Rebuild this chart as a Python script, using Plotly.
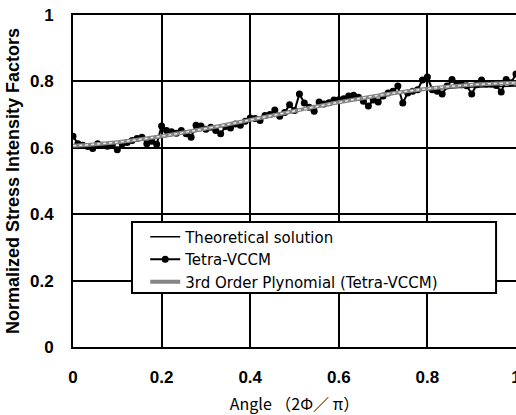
import plotly.graph_objects as go

# ---- data ----
x_tick_vals = [0, 0.2, 0.4, 0.6, 0.8, 1.0]
x_tick_text = ["0", "0.2", "0.4", "0.6", "0.8", "1"]
y_tick_vals = [0, 0.2, 0.4, 0.6, 0.8, 1.0]
y_tick_text = ["0", "0.2", "0.4", "0.6", "0.8", "1"]

# Tetra-VCCM results (91 points, angle 0..1 in steps of 1/90)
vccm_values = [
    0.635, 0.612, 0.608, 0.604, 0.598, 0.612, 0.608, 0.605, 0.610, 0.594,
    0.612, 0.616, 0.622, 0.628, 0.632, 0.612, 0.620, 0.611, 0.666, 0.652,
    0.648, 0.644, 0.652, 0.642, 0.632, 0.668, 0.666, 0.656, 0.662, 0.652,
    0.642, 0.664, 0.660, 0.672, 0.668, 0.680, 0.690, 0.688, 0.682, 0.697,
    0.700, 0.714, 0.695, 0.706, 0.730, 0.712, 0.762, 0.735, 0.722, 0.710,
    0.738, 0.732, 0.736, 0.744, 0.745, 0.748, 0.756, 0.758, 0.752, 0.740,
    0.726, 0.744, 0.738, 0.756, 0.765, 0.770, 0.786, 0.735, 0.765, 0.770,
    0.775, 0.804, 0.813, 0.775, 0.770, 0.762, 0.786, 0.806, 0.792, 0.790,
    0.787, 0.762, 0.790, 0.804, 0.792, 0.792, 0.788, 0.768, 0.806, 0.796,
    0.822,
]
vccm_angles = [i / 90 for i in range(len(vccm_values))]

curve_angles = [0.0, 0.1, 0.2, 0.3, 0.4, 0.5, 0.6, 0.7, 0.8, 0.9, 1.0]
theory_values = [0.607, 0.615, 0.632, 0.655, 0.683, 0.712, 0.738, 0.760, 0.775, 0.783, 0.786]
poly_values = [0.606, 0.617, 0.635, 0.658, 0.684, 0.711, 0.737, 0.760, 0.778, 0.790, 0.796]

fig = go.Figure()
fig.add_trace(go.Scatter(
    x=curve_angles, y=theory_values, mode="lines", name="Theoretical solution",
    line=dict(color="black", width=1.5, shape="spline"),
))
fig.add_trace(go.Scatter(
    x=vccm_angles, y=vccm_values, mode="lines+markers", name="Tetra-VCCM",
    line=dict(color="black", width=2), marker=dict(color="black", size=7),
))
fig.add_trace(go.Scatter(
    x=curve_angles, y=poly_values, mode="lines", name="3rd Order Plynomial (Tetra-VCCM)",
    line=dict(color="#858585", width=4, shape="spline"),
))
fig.add_trace(go.Scatter(
    x=curve_angles, y=poly_values, mode="lines", showlegend=False, hoverinfo="skip",
    line=dict(color="#e6e6e6", width=1.5, shape="spline", dash="dot"),
))

tick_font = dict(family="Liberation Sans", size=17, color="black", weight="bold")

# legend frame (drawn as a shape so its size matches the original)
fig.add_shape(
    type="rect", xref="paper", yref="paper",
    x0=0.1332, x1=0.955, y0=0.1627, y1=0.3765,
    fillcolor="white", line=dict(color="black", width=2), layer="above",
)

fig.update_layout(
    width=516, height=415,
    margin=dict(l=73, r=0, t=15, b=68),
    paper_bgcolor="white", plot_bgcolor="white",
    template="none",
    showlegend=True,
    legend=dict(
        x=0.163, y=0.381, xanchor="left", yanchor="top",
        bgcolor="rgba(0,0,0,0)", borderwidth=0,
        font=dict(family="DejaVu Sans", size=15, color="black"),
        tracegroupgap=0, itemwidth=30,
    ),
    xaxis=dict(
        range=[0, 1], tickvals=x_tick_vals, ticktext=x_tick_text,
        showgrid=True, gridcolor="black", gridwidth=2,
        showline=True, linecolor="black", linewidth=2, mirror=True,
        zeroline=False, ticks="", tickfont=tick_font, automargin=False,
        ticklabelstandoff=14, ticklabeloverflow="allow",
        title=dict(text="Angle （2Φ／ π）", font=dict(family="Noto Sans CJK JP", size=16, color="black"), standoff=12),
    ),
    yaxis=dict(
        range=[0, 1], tickvals=y_tick_vals, ticktext=y_tick_text,
        showgrid=True, gridcolor="black", gridwidth=2,
        showline=True, linecolor="black", linewidth=2, mirror=True,
        zeroline=False, ticks="", tickfont=tick_font, automargin=False,
        ticklabelstandoff=14,
        title=dict(text="Normalized Stress Intensity Factors", font=dict(family="Liberation Sans", size=18, color="black", weight="bold"), standoff=6),
    ),
)

fig.write_html("out.html")
